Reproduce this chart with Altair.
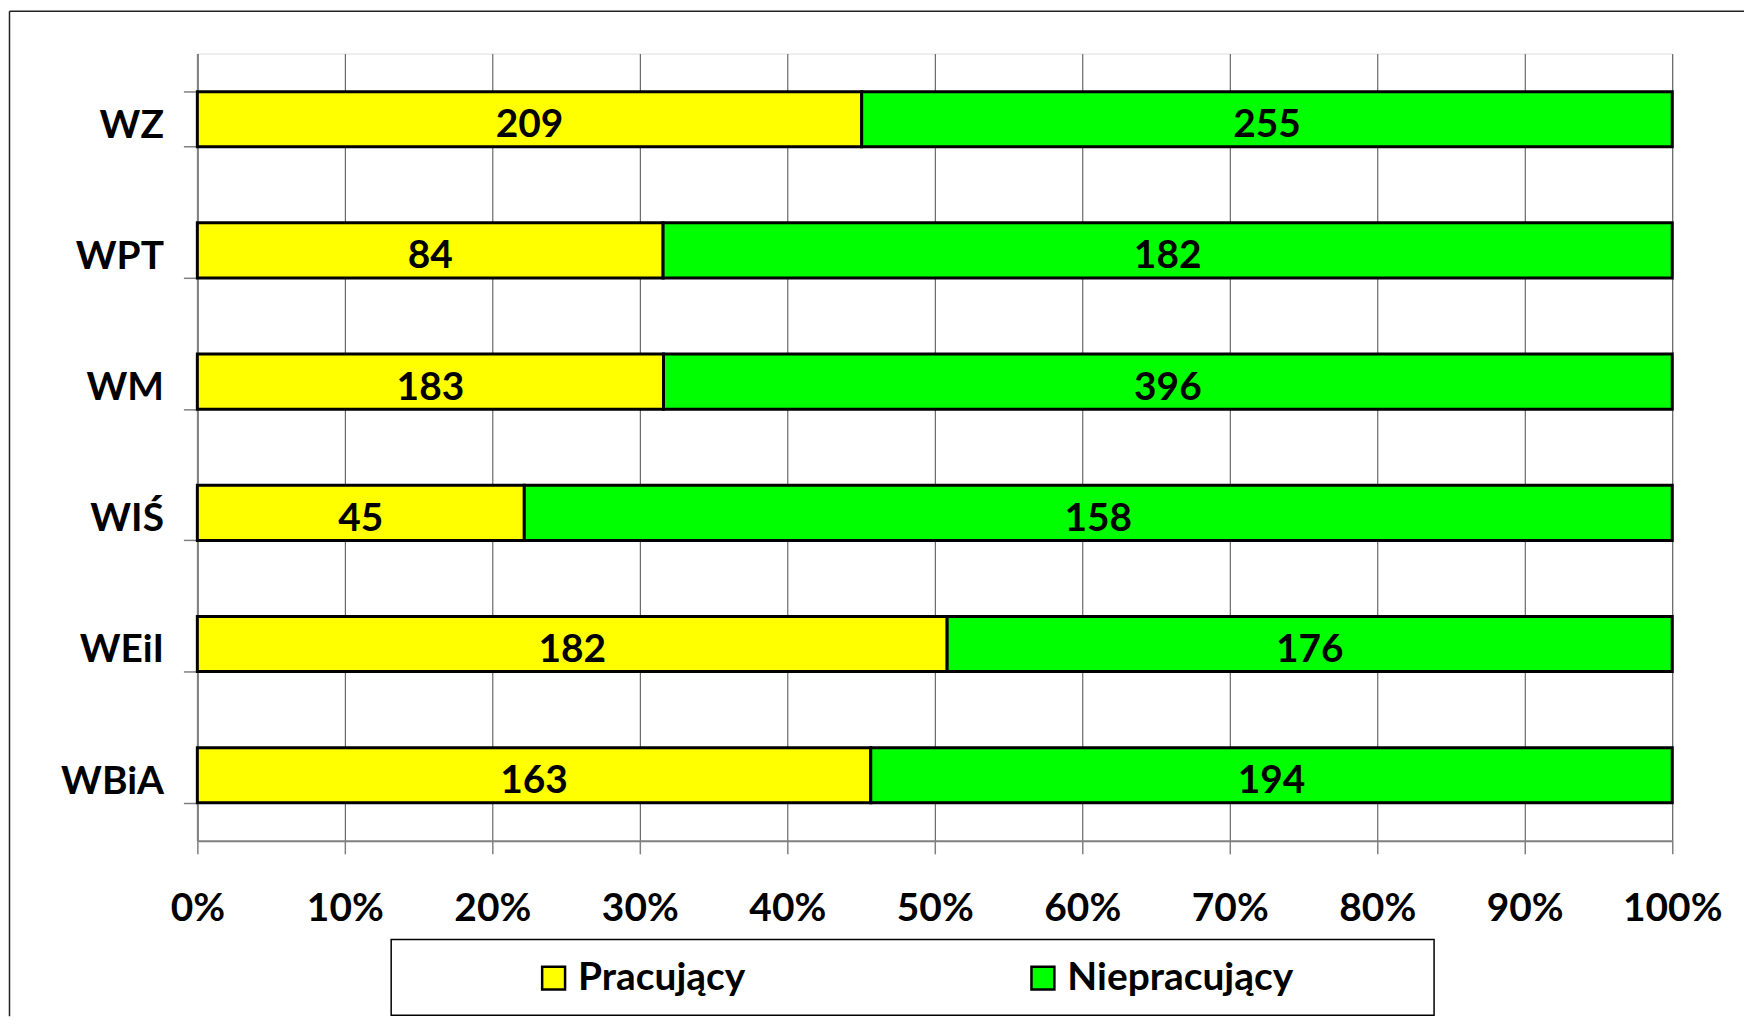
import altair as alt
import pandas as pd

faculties = ["WZ", "WPT", "WM", "WIŚ", "WEiI", "WBiA"]
working = [209, 84, 183, 45, 182, 163]
not_working = [255, 182, 396, 158, 176, 194]
series = ["Pracujący", "Niepracujący"]
colors = ["#FFFF00", "#00FF00"]
x_ticks = [0.0, 0.1, 0.2, 0.3, 0.4, 0.5, 0.6, 0.7, 0.8, 0.9, 1.0]

rows = []
for f, w, n in zip(faculties, working, not_working):
    rows.append({"Wydział": f, "Status": series[0], "Liczba": w, "ord": 0})
    rows.append({"Wydział": f, "Status": series[1], "Liczba": n, "ord": 1})
df = pd.DataFrame(rows)

FONT = "Lato"
FS = 39
W, H = 1480, 790

base = alt.Chart(df).transform_stack(
    stack="Liczba",
    groupby=["Wydział"],
    as_=["lo", "hi"],
    sort=[alt.SortField(field="ord", order="ascending")],
    offset="normalize",
).transform_calculate(mid="(datum.lo + datum.hi) / 2")

x_scale = alt.Scale(domain=[0, 1], nice=False, zero=True)
x_axis = alt.Axis(
    values=x_ticks, format="%", title=None,
    labelFont=FONT, labelFontSize=FS, labelFontWeight="bold", labelColor="black",
    labelPadding=36, labelFlush=False, labelOverlap=False,
    tickSize=13, tickColor="#808080", tickWidth=1.5,
    domainColor="#808080", domainWidth=2,
    grid=True, gridColor="#4a4a4a", gridWidth=1,
)
y_scale = alt.Scale(paddingInner=0.58, paddingOuter=0.29)
y_axis = alt.Axis(
    title=None, tickBand="extent", ticks=True, tickSize=14,
    tickColor="#808080", tickWidth=1.5,
    domainColor="#808080", domainWidth=2,
    labelFont=FONT, labelFontSize=FS, labelFontWeight="bold", labelColor="black",
    labelPadding=20, labelOffset=6, grid=False,
)

bars = base.mark_bar(stroke="black", strokeWidth=3).encode(
    x=alt.X("lo:Q", scale=x_scale, axis=x_axis),
    x2="hi:Q",
    y=alt.Y("Wydział:N", sort=faculties, scale=y_scale, axis=y_axis),
    color=alt.Color(
        "Status:N",
        scale=alt.Scale(domain=series, range=colors),
        legend=alt.Legend(
            orient="none", legendX=338, legendY=908,
            direction="horizontal", columns=2, columnPadding=279,
            title=None, padding=0,
            symbolType="square", symbolSize=529,
            symbolStrokeColor="black", symbolStrokeWidth=2.5, symbolOpacity=1,
            labelFont=FONT, labelFontSize=FS, labelFontWeight="bold",
            labelColor="black", labelOffset=5, labelLimit=600,
        ),
    ),
)

labels = base.mark_text(
    font=FONT, fontSize=FS, fontWeight="bold", color="black", dy=6
).encode(
    x=alt.X("mid:Q", scale=x_scale),
    y=alt.Y("Wydział:N", sort=faculties),
    text="Liczba:Q",
)

deco = pd.DataFrame({"k": [0]})
legend_box = alt.Chart(deco).mark_rect(
    fill="white", stroke="black", strokeWidth=1.5
).encode(
    x=alt.value(194.5), x2=alt.value(1241), y=alt.value(889), y2=alt.value(965)
)
frame_top = alt.Chart(deco).mark_rule(color="#222222", strokeWidth=1.5).encode(
    x=alt.value(-188.5), x2=alt.value(1552), y=alt.value(-42.5)
)
frame_left = alt.Chart(deco).mark_rule(color="#222222", strokeWidth=1.5).encode(
    x=alt.value(-188.5), y=alt.value(-42.5), y2=alt.value(966)
)

chart = alt.layer(legend_box, frame_top, frame_left, bars, labels).properties(
    width=W, height=H,
    padding={"left": 0, "top": 0, "right": 0, "bottom": 0},
).configure_view(
    stroke="#8c8c8c", strokeWidth=2.5
).configure(background="white")

chart.save("out.html", embed_options={"renderer": "svg", "actions": False})
